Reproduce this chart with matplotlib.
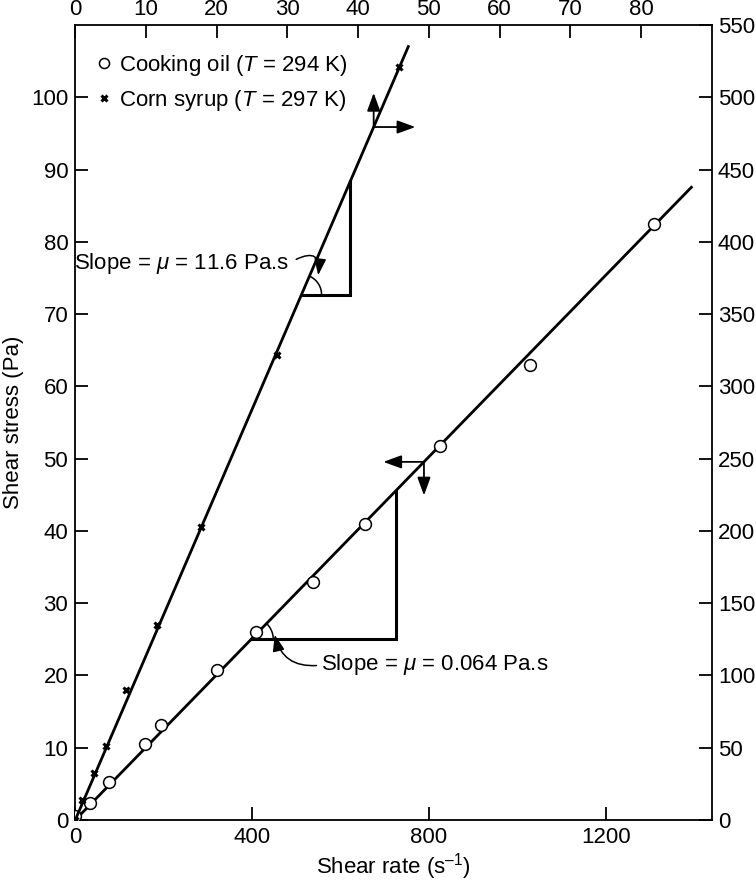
import numpy as np
import matplotlib.pyplot as plt

plt.rcParams['font.family'] = ['Liberation Sans', 'DejaVu Sans']
plt.rcParams['mathtext.fontset'] = 'custom'
plt.rcParams['mathtext.rm'] = 'Liberation Sans'
plt.rcParams['mathtext.it'] = 'Liberation Sans:italic'
plt.rcParams['font.size'] = 16

# cooking oil -> bottom / left axes
oil_rate = [0, 34, 76, 158, 195, 320, 410, 538, 656, 826, 1030, 1309]
oil_stress = [0.5, 2.3, 5.2, 10.5, 13.2, 20.7, 26.0, 32.9, 40.9, 51.8, 62.9, 82.5]
oil_mu = 0.0628
oil_fit_end = 1394

# corn syrup -> top / right axes
syrup_rate = [0, 0.95, 2.6, 4.3, 7.2, 11.6, 17.8, 28.6, 45.8]
syrup_stress = [0, 13.8, 32.3, 51.2, 90, 135, 202.7, 322, 521]
syrup_mu = 11.36
syrup_fit_end = 47.1

bottom_ticks = [0, 400, 800, 1200]
left_ticks = list(range(0, 101, 10))
top_ticks = list(range(0, 81, 10))
right_ticks = list(range(0, 551, 50))

fig = plt.figure(figsize=(7.56, 8.82), dpi=100)
pos = [0.0995, 0.0703, 0.8419, 0.9014]
ax = fig.add_axes(pos)
ax2 = fig.add_axes(pos, frameon=False)

ax.set_xlim(0, 1440)
ax.set_ylim(0, 110)
ax2.set_xlim(0, 90)
ax2.set_ylim(0, 550)

for s in ax.spines.values():
    s.set_linewidth(1.3)

ax.tick_params(direction='in', length=9.5, width=1.3, pad=5,
               top=False, right=False)
ax2.xaxis.tick_top()
ax2.yaxis.tick_right()
ax2.tick_params(direction='in', length=9.5, width=1.3, pad=3.5)
ax2.tick_params(axis='y', pad=4.5)
ax.set_xticks(bottom_ticks)
ax.set_yticks(left_ticks)
ax2.set_xticks(top_ticks)
ax2.set_yticks(right_ticks)

# fitted lines
xf = np.array([0, oil_fit_end])
ax.plot(xf, oil_mu * xf, color='black', lw=2, zorder=2)
xs = np.array([0, syrup_fit_end])
ax2.plot(xs, syrup_mu * xs, color='black', lw=2, zorder=2)

# data points
ax.plot(oil_rate, oil_stress, 'o', ms=8.5, mfc='white', mec='black', mew=1.1,
        zorder=3, label='Cooking oil ($T$ = 294 K)')
ax.plot([], [], 'x', ms=4.5, mew=2.2, color='black',
        label='Corn syrup ($T$ = 297 K)')
ax2.plot(syrup_rate, syrup_stress, 'x', ms=4.5, mew=2.2, color='black', zorder=3)

leg = ax.legend(loc='upper left', bbox_to_anchor=(0.004, 0.99), frameon=False,
                handlelength=0.6, handletextpad=0.35, labelspacing=0.45,
                fontsize=16, markerscale=0.85)

# slope triangles
x0 = 25 / oil_mu
x1 = 725
ax.plot([x0, x1, x1], [25, 25, oil_mu * x1], color='black', lw=2.2,
        solid_joinstyle='miter', zorder=2)
sx0 = 32.0
sx1 = 38.9
ax2.plot([sx0, sx1, sx1], [syrup_mu * sx0, syrup_mu * sx0, syrup_mu * sx1],
         color='black', lw=2.2, solid_joinstyle='miter', zorder=2)

# angle arcs (circular in pixels)
t = np.radians(np.linspace(0, 46, 30))
ax.plot(x0 + 50 * np.cos(t), 25 + 3.04 * np.sin(t), color='black', lw=1.1)
t = np.radians(np.linspace(0, 66.7, 30))
ax2.plot(sx0 + 2.83 * np.cos(t), syrup_mu * sx0 + 13.8 * np.sin(t),
         color='black', lw=1.1)

head = '-|>,head_length=0.55,head_width=0.2'

# slope labels with curved arrows
ax.annotate('', xy=(450, 26.0), xytext=(552, 21.4),
            arrowprops=dict(arrowstyle=head, lw=1.1, color='black',
                            mutation_scale=18,
                            connectionstyle='arc3,rad=-0.45'))
ax.text(557, 21.5, r'Slope = $\mu$ = 0.064 Pa.s', ha='left', va='center')

ax2.annotate('', xy=(34.3, 375), xytext=(30.9, 387),
             arrowprops=dict(arrowstyle=head, lw=1.1, color='black',
                             mutation_scale=18,
                             connectionstyle='arc3,rad=-1.0'))
ax2.text(30.3, 385, r'Slope = $\mu$ = 11.6 Pa.s', ha='right', va='center')

# axis indicator arrows
px = 42.2
ax2.annotate('', xy=(px, 503), xytext=(px, syrup_mu * px),
             arrowprops=dict(arrowstyle=head, lw=1.3, color='black',
                             mutation_scale=20, shrinkA=0, shrinkB=0))
ax2.annotate('', xy=(48.1, syrup_mu * px), xytext=(px, syrup_mu * px),
             arrowprops=dict(arrowstyle=head, lw=1.3, color='black',
                             mutation_scale=20, shrinkA=0, shrinkB=0))
qx = 789
ax.annotate('', xy=(697, oil_mu * qx), xytext=(qx, oil_mu * qx),
            arrowprops=dict(arrowstyle=head, lw=1.3, color='black',
                            mutation_scale=20, shrinkA=0, shrinkB=0))
ax.annotate('', xy=(qx, 44.9), xytext=(qx, oil_mu * qx),
            arrowprops=dict(arrowstyle=head, lw=1.3, color='black',
                            mutation_scale=20, shrinkA=0, shrinkB=0))

ax.set_xlabel('Shear rate (s$^{\u2013\mathregular{1}}$)', labelpad=2)
ax.set_ylabel('Shear stress (Pa)', labelpad=5)

fig.savefig('out.png', dpi=100)
